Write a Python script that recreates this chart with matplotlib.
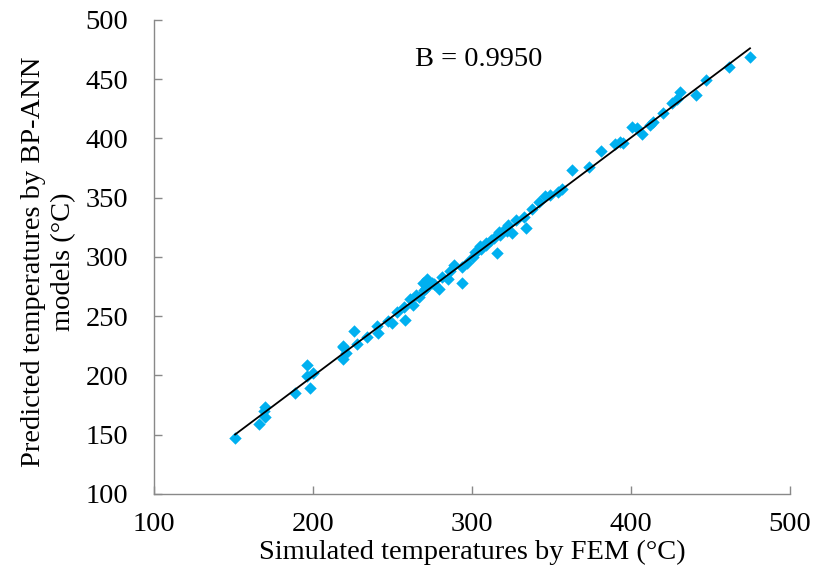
import numpy as np
import matplotlib.pyplot as plt

# ---------------------------------------------------------------------------
# data
# simulated (FEM) vs predicted (BP-ANN) temperatures, degC

fem_temp = [151, 166, 170, 169, 170, 189, 196, 196, 200, 198,
            219, 219, 221, 219, 226, 228, 234, 240, 241, 247,
            250, 253, 257, 258, 261, 263, 267, 269, 272, 270,
            275, 279, 281, 285, 289, 294, 294, 297, 301, 306,
            309, 316, 317, 305, 309, 320, 323, 325, 334, 328,
            333, 338, 342, 346, 349, 354, 357, 363, 374, 381,
            390, 393, 395, 401, 404, 407, 412, 414, 420, 426,
            429, 431, 441, 447, 462, 475, 312, 314, 318, 322,
            302, 304, 286, 276, 265, 271]
ann_temp = [147, 159, 165, 170, 173, 185, 209, 199, 202, 189,
            224, 214, 219, 225, 237, 226, 232, 242, 236, 246,
            244, 253, 258, 247, 264, 259, 266, 278, 281, 272,
            278, 273, 283, 281, 293, 278, 291, 295, 300, 307,
            310, 303, 321, 309, 312, 323, 327, 320, 324, 331,
            334, 340, 346, 351, 352, 355, 357, 373, 376, 389,
            395, 397, 396, 410, 409, 404, 411, 414, 421, 430,
            433, 439, 437, 449, 460, 469, 314, 316, 318, 322,
            304, 306, 288, 277, 268, 274]

# fitted trend line end points
fit_x = [151, 475]
fit_y = [150, 476]

b_label = 'B = 0.9950'

# ---------------------------------------------------------------------------

plt.rcParams['font.family'] = ['Liberation Serif', 'DejaVu Serif']
fs = 20.5

fig = plt.figure(figsize=(8.15, 5.85), dpi=100)
ax = fig.add_axes([0.189, 0.156, 0.780, 0.810])

ax.scatter(fem_temp, ann_temp, marker='D', s=40, color='#00B0F0',
           linewidths=0, zorder=2)
ax.plot(fit_x, fit_y, color='black', lw=1.3, zorder=3)

ax.text(264, 461, b_label, fontsize=fs, va='baseline', ha='left')

ax.set_xlim(100, 500)
ax.set_ylim(100, 500)
ax.set_xticks(np.arange(100, 501, 100))
ax.set_yticks(np.arange(100, 501, 50))

ax.set_xlabel('Simulated temperatures by FEM (°C)', fontsize=fs, labelpad=2)
ax.set_ylabel('Predicted temperatures by BP-ANN\nmodels (°C)', fontsize=fs,
              linespacing=1.27)
ax.yaxis.set_label_coords(-0.122, 0.49)

for side in ['top', 'right']:
    ax.spines[side].set_visible(False)
for side in ['left', 'bottom']:
    ax.spines[side].set_color('#898989')
    ax.spines[side].set_linewidth(1.0)

ax.tick_params(direction='in', length=6, width=1.0, color='#898989',
               labelsize=fs)
ax.tick_params(axis='y', pad=18.5)
ax.tick_params(axis='x', pad=13.5)

fig.savefig('out.png', dpi=100)
